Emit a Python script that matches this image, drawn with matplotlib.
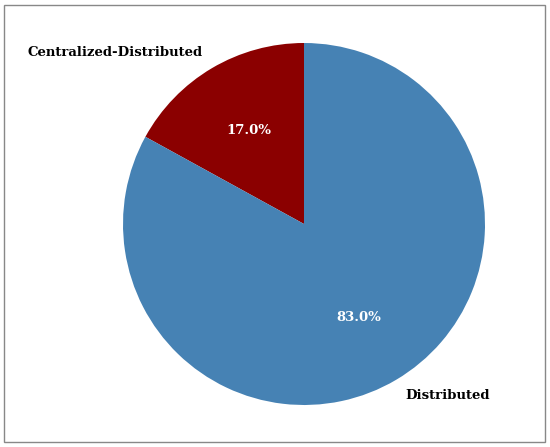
import matplotlib.pyplot as plt
from matplotlib.patches import Rectangle

labels = ["Centralized-Distributed", "Distributed"]
shares = [17.0, 83.0]
colors = ["#8b0000", "#4682b4"]

plt.rcParams["font.family"] = "DejaVu Serif"

fig = plt.figure(figsize=(5.5, 4.47), dpi=100)
ax = fig.add_axes([0, 0, 1, 1])
wedges, texts, autotexts = ax.pie(
    shares,
    labels=labels,
    colors=colors,
    autopct="%1.1f%%",
    startangle=90,
    textprops={"fontsize": 9.5, "fontweight": "bold"},
)
for t in autotexts:
    t.set_color("white")

# place the pie like the reference (centre ~ (304, 223) px, radius ~181 px)
r = 181
ax.set_xlim(-304 / r, (550 - 304) / r)
ax.set_ylim(-223 / r, (447 - 223) / r)

fig.patches.append(Rectangle((4 / 550, 5 / 447), 541 / 550, 437 / 447,
                             transform=fig.transFigure, fill=False,
                             edgecolor="#888888", linewidth=1))

plt.savefig("out.png", dpi=100)
